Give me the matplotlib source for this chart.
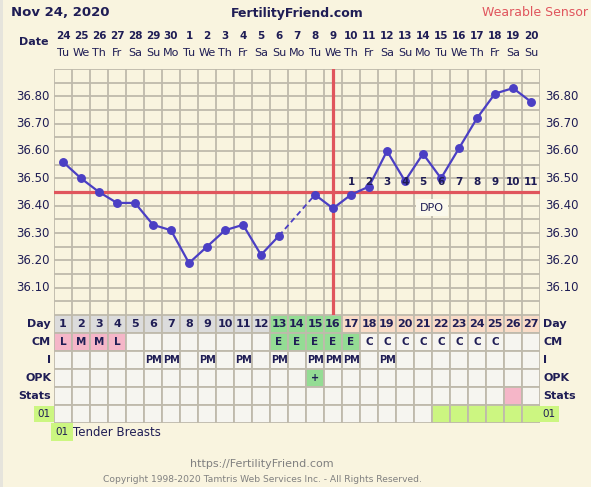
import matplotlib
matplotlib.use('Agg')
from matplotlib import pyplot as plt
from matplotlib.patches import Rectangle
from matplotlib.transforms import blended_transform_factory

# chart data
days = list(range(1, 28))
dates = [24, 25, 26, 27, 28, 29, 30, 1, 2, 3, 4, 5, 6, 7, 8, 9, 10, 11, 12, 13, 14, 15, 16, 17, 18, 19, 20]
weekdays = ['Tu', 'We', 'Th', 'Fr', 'Sa', 'Su', 'Mo', 'Tu', 'We', 'Th', 'Fr', 'Sa', 'Su', 'Mo',
            'Tu', 'We', 'Th', 'Fr', 'Sa', 'Su', 'Mo', 'Tu', 'We', 'Th', 'Fr', 'Sa', 'Su']
temps = [36.56, 36.50, 36.45, 36.41, 36.41, 36.33, 36.31, 36.19, 36.25, 36.31, 36.33, 36.22, 36.29,
         None, 36.44, 36.39, 36.44, 36.47, 36.60, 36.49, 36.59, 36.50, 36.61, 36.72, 36.81, 36.83, 36.78]
coverline = 36.45
ovulation_day = 16
dpo = list(range(1, 12))
cm = ['L', 'M', 'M', 'L', '', '', '', '', '', '', '', '', 'E', 'E', 'E', 'E', 'E',
      'C', 'C', 'C', 'C', 'C', 'C', 'C', 'C', '', '']
intercourse_days = [6, 7, 9, 11, 13, 15, 16, 17, 19]
opk_positive_days = [15]
stats_days = [26]
symptom_days = [22, 23, 24, 25, 26, 27]
yticks = [36.10, 36.20, 36.30, 36.40, 36.50, 36.60, 36.70, 36.80]
row_labels = ['Day', 'CM', 'I', 'OPK', 'Stats', '01']

W, H = 591, 487
BG = '#f9f4df'
NAVY = '#1f1d55'
RED = '#e0555d'
LINE = '#4b3fc4'
GRID = '#bfbaac'
CELL = '#f6f5f0'
GRAY = '#dcdcdc'
GREEN = '#94dc94'
PEACH = '#f9dcc8'
PINK = '#f5b6c8'
LIME = '#ccf681'

def fx(px):
    return px / W

def fy(py):
    return 1 - py / H

fig = plt.figure(figsize=(W / 100, H / 100), dpi=100, facecolor=BG)
fig.patches.append(Rectangle((0, 0), fx(3), 1, transform=fig.transFigure, fc='#e6e4dc', ec='none'))

# ---- temperature plot ----
ax = fig.add_axes([fx(54), fy(315), fx(540) - fx(54), fy(69) - fy(315)])
ax.set_facecolor(BG)
ax.set_xlim(0.5, 27.5)
ax.set_ylim(36.0, 36.9)
for s in ax.spines.values():
    s.set_visible(False)
ax.set_xticks([])
ax.set_yticks([])
for i in range(28):
    ax.axvline(i + 0.5, color=GRID, lw=1.3, zorder=1)
for k in range(19):
    ax.axhline(36.0 + k * 0.05, color=GRID, lw=1.3, zorder=1)

ax.axhline(coverline, color=RED, lw=2.3, zorder=2)
ax.axvline(ovulation_day, color=RED, lw=2.3, zorder=2)

# solid segments, dashed across gaps
seg_x, seg_y = [], []
prev = None
for d, t in zip(days, temps):
    if t is None:
        if seg_x:
            ax.plot(seg_x, seg_y, color=LINE, lw=1.6, zorder=3)
        seg_x, seg_y = [], []
        continue
    if prev is not None and d - prev[0] > 1:
        ax.plot([prev[0], d], [prev[1], t], color=LINE, lw=1.3, ls=(0, (3, 2)), zorder=3)
    seg_x.append(d)
    seg_y.append(t)
    prev = (d, t)
ax.plot(seg_x, seg_y, color=LINE, lw=1.6, zorder=3)
pts = [(d, t) for d, t in zip(days, temps) if t is not None]
ax.plot([p[0] for p in pts], [p[1] for p in pts], 'o', color=LINE, ms=5.4, zorder=4)

for n in dpo:
    ax.text(ovulation_day + n, coverline + 0.035, str(n), ha='center', va='center',
            fontsize=7.5, fontweight='bold', color=NAVY, zorder=5)
ax.text(21.5, 36.393, 'DPO', ha='center', va='center', fontsize=8, color=NAVY, zorder=5,
        bbox=dict(boxstyle='square,pad=0.35', fc='#fbf9ec', ec='none'))

# y tick labels on both sides
ylab = blended_transform_factory(fig.transFigure, ax.transData)
for t in yticks:
    fig.text(fx(50), t, f'{t:.2f}', transform=ylab, ha='right', va='center', fontsize=8.5, color=NAVY)
    fig.text(fx(545), t, f'{t:.2f}', transform=ylab, ha='left', va='center', fontsize=8.5, color=NAVY)

# date header
xlab = blended_transform_factory(ax.transData, fig.transFigure)
for d, dt, wd in zip(days, dates, weekdays):
    ax.text(d, fy(36), str(dt), transform=xlab, ha='center', va='center',
            fontsize=7.5, fontweight='bold', color=NAVY)
    ax.text(d, fy(53), wd, transform=xlab, ha='center', va='center', fontsize=8, color=NAVY)
fig.text(fx(49), fy(42), 'Date', ha='right', va='center', fontsize=8, fontweight='bold', color=NAVY)

fig.text(fx(11), fy(13), 'Nov 24, 2020', ha='left', va='center', fontsize=9.5, fontweight='bold', color=NAVY)
fig.text(fx(297), fy(13), 'FertilityFriend.com', ha='center', va='center', fontsize=9,
         fontweight='bold', color=NAVY)
fig.text(fx(588), fy(13), 'Wearable Sensor', ha='right', va='center', fontsize=9, color=RED)

# ---- data table ----
tax = fig.add_axes([fx(54), fy(423), fx(540) - fx(54), fy(315) - fy(423)])
tax.set_xlim(0.5, 27.5)
tax.set_ylim(6, 0)
tax.axis('off')

def cell(d, row, color, text='', size=7.5):
    tax.add_patch(Rectangle((d - 0.5, row), 1, 1, fc=color, ec=GRID, lw=1.3))
    if text:
        tax.text(d, row + 0.52, text, ha='center', va='center', fontsize=size,
                 fontweight='bold', color=NAVY)

for d in days:
    if d <= 12:
        c = GRAY
    elif d <= ovulation_day:
        c = GREEN
    else:
        c = PEACH
    cell(d, 0, c, str(d), 8)
for d, v in zip(days, cm):
    c = PINK if v in ('L', 'M') else GREEN if v == 'E' else CELL
    cell(d, 1, c, v)
for d in days:
    cell(d, 2, CELL, 'PM' if d in intercourse_days else '', 7)
    cell(d, 3, GREEN if d in opk_positive_days else CELL, '+' if d in opk_positive_days else '', 7)
    cell(d, 4, PINK if d in stats_days else CELL)
    cell(d, 5, LIME if d in symptom_days else CELL)

rlab = blended_transform_factory(fig.transFigure, tax.transData)
for i, lab in enumerate(row_labels):
    if lab == '01':
        fig.text(fx(44), i + 0.5, lab, transform=rlab, ha='center', va='center', fontsize=7.5,
                 color=NAVY, bbox=dict(boxstyle='square,pad=0.3', fc=LIME, ec='none'))
        fig.text(fx(549), i + 0.5, lab, transform=rlab, ha='center', va='center', fontsize=7.5,
                 color=NAVY, bbox=dict(boxstyle='square,pad=0.3', fc=LIME, ec='none'))
    else:
        fig.text(fx(51), i + 0.5, lab, transform=rlab, ha='right', va='center', fontsize=8,
                 fontweight='bold', color=NAVY)
        fig.text(fx(543), i + 0.5, lab, transform=rlab, ha='left', va='center', fontsize=8,
                 fontweight='bold', color=NAVY)

# legend + footer
fig.text(fx(62), fy(432), '01', ha='center', va='center', fontsize=7.5, color=NAVY,
         bbox=dict(boxstyle='square,pad=0.4', fc=LIME, ec='none'))
fig.text(fx(73), fy(432), 'Tender Breasts', ha='left', va='center', fontsize=8.5, color=NAVY)
fig.text(fx(262), fy(464), 'https://FertilityFriend.com', ha='center', va='center', fontsize=8, color='#808080')
fig.text(fx(262), fy(479), 'Copyright 1998-2020 Tamtris Web Services Inc. - All Rights Reserved.',
         ha='center', va='center', fontsize=6.6, color='#808080')

fig.savefig('out.png', dpi=100, facecolor=BG)
